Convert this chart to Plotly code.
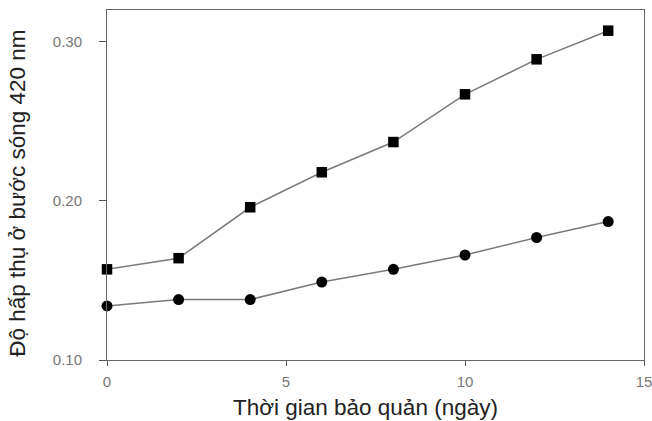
import plotly.graph_objects as go

# Storage time (days)
days = [0, 2, 4, 6, 8, 10, 12, 14]
# Absorbance at 420 nm for the two samples
series_square = [0.157, 0.164, 0.196, 0.218, 0.237, 0.267, 0.289, 0.307]
series_circle = [0.134, 0.138, 0.138, 0.149, 0.157, 0.166, 0.177, 0.187]

x_ticks = [0, 5, 10, 15]
y_ticks = [0.10, 0.20, 0.30]
y_tick_text = ["0.10", "0.20", "0.30"]

font = "Liberation Sans, Arial, sans-serif"

fig = go.Figure()
fig.add_trace(go.Scatter(
    x=days, y=series_square, mode="lines+markers",
    line=dict(color="#7a7a7a", width=1.5),
    marker=dict(symbol="square", size=10.5, color="black"),
    cliponaxis=False, showlegend=False,
))
fig.add_trace(go.Scatter(
    x=days, y=series_circle, mode="lines+markers",
    line=dict(color="#7a7a7a", width=1.5),
    marker=dict(symbol="circle", size=11, color="black"),
    cliponaxis=False, showlegend=False,
))

fig.update_layout(
    width=652, height=421,
    margin=dict(l=107, r=8, t=10, b=61, autoexpand=False),
    paper_bgcolor="white", plot_bgcolor="white",
    font=dict(family=font),
    xaxis=dict(
        range=[0, 15], tickvals=x_ticks, ticks="outside", ticklen=5,
        tickcolor="#555", showgrid=False, zeroline=False,
        showline=True, linecolor="#666", linewidth=1, mirror=True,
        tickfont=dict(size=15, color="#777"), ticklabelstandoff=3,
        ticklabeloverflow="allow", automargin=False,
    ),
    yaxis=dict(
        range=[0.10, 0.32], tickvals=y_ticks, ticktext=y_tick_text,
        ticks="outside", ticklen=7, tickcolor="#555",
        showgrid=False, zeroline=False,
        showline=True, linecolor="#666", linewidth=1, mirror=True,
        tickfont=dict(size=15, color="#777"), ticklabelstandoff=14,
        automargin=False,
    ),
    annotations=[
        dict(text="Thời gian bảo quản (ngày)", xref="paper", yref="paper",
             x=0.482, y=-0.137, xanchor="center", yanchor="middle",
             showarrow=False, font=dict(size=22.5, color="#222")),
        dict(text="Độ hấp thụ ở bước sóng 420 nm", xref="paper", yref="paper",
             x=-0.1657, y=0.475, xanchor="center", yanchor="middle",
             textangle=-90, showarrow=False, font=dict(size=22.5, color="#222")),
    ],
)

fig.write_html("out.html")
